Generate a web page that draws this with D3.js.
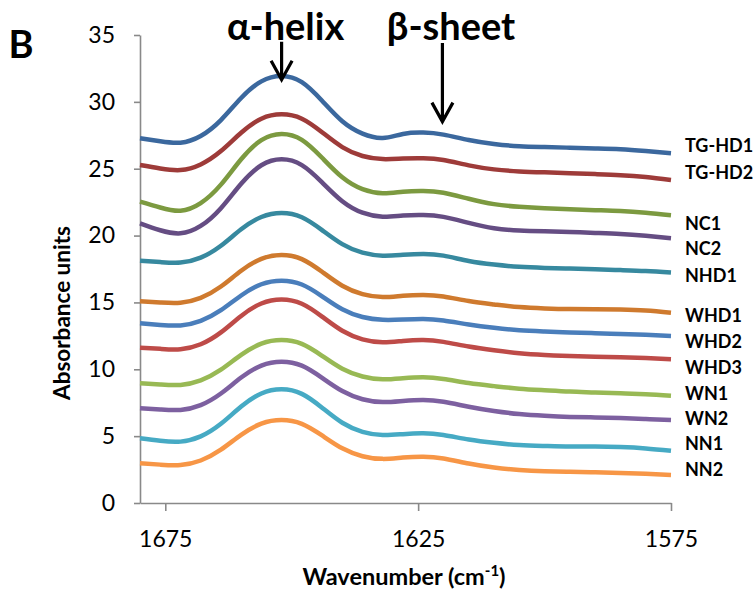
<!DOCTYPE html>
<html>
<head>
<meta charset="utf-8">
<script src="https://cdn.jsdelivr.net/npm/d3@7"></script>
<style>
  html, body { margin: 0; padding: 0; background: #fff; }
  svg { display: block; }
  text { font-family: Lato, "Open Sans", sans-serif; }
</style>
</head>
<body>
<svg id="chart" width="755" height="594"></svg>
<script>
// ---- data ----
const wavenumbers = [1680, 1676, 1672, 1668, 1664, 1660, 1656, 1652, 1648, 1644, 1640, 1636, 1632,
                     1628, 1624, 1620, 1615, 1610, 1605, 1600, 1595, 1590, 1585, 1580, 1575];

const seriesNames = ["TG-HD1", "TG-HD2", "NC1", "NC2", "NHD1", "WHD1", "WHD2", "WHD3", "WN1", "WN2", "NN1", "NN2"];

const TG_HD1 = [27.28, 27.05, 26.95, 27.45, 28.64, 30.29, 31.53, 31.93, 31.47, 30.08, 28.55, 27.62, 27.30, 27.60, 27.70, 27.55, 27.15, 26.85, 26.68, 26.62, 26.57, 26.52, 26.46, 26.32, 26.15];
const TG_HD2 = [25.28, 25.02, 24.90, 25.32, 26.32, 27.69, 28.74, 29.07, 28.74, 27.73, 26.62, 25.95, 25.72, 25.76, 25.78, 25.65, 25.25, 24.95, 24.80, 24.73, 24.67, 24.60, 24.52, 24.38, 24.16];
const NC1    = [22.54, 22.10, 21.86, 22.43, 23.81, 25.71, 27.14, 27.60, 27.16, 25.82, 24.36, 23.47, 23.16, 23.28, 23.34, 23.20, 22.75, 22.35, 22.15, 22.04, 21.97, 21.90, 21.83, 21.70, 21.52];
const NC2    = [20.92, 20.40, 20.17, 20.72, 22.05, 23.88, 25.26, 25.70, 25.27, 23.98, 22.57, 21.71, 21.41, 21.50, 21.54, 21.40, 20.95, 20.55, 20.38, 20.32, 20.27, 20.20, 20.12, 19.98, 19.80];
const NHD1   = [18.12, 18.02, 17.98, 18.35, 19.24, 20.47, 21.39, 21.69, 21.37, 20.41, 19.36, 18.72, 18.50, 18.56, 18.62, 18.50, 18.10, 17.83, 17.66, 17.58, 17.53, 17.48, 17.42, 17.35, 17.23];
const WHD1   = [15.08, 15.00, 14.98, 15.34, 16.19, 17.37, 18.26, 18.55, 18.24, 17.29, 16.25, 15.62, 15.40, 15.50, 15.56, 15.45, 15.10, 14.85, 14.65, 14.55, 14.50, 14.49, 14.47, 14.40, 14.23];
const WHD2   = [13.44, 13.32, 13.28, 13.62, 14.42, 15.52, 16.36, 16.63, 16.34, 15.46, 14.49, 13.91, 13.70, 13.72, 13.76, 13.65, 13.35, 13.10, 12.92, 12.83, 12.76, 12.70, 12.64, 12.58, 12.49];
const WHD3   = [11.62, 11.53, 11.50, 11.87, 12.76, 13.99, 14.92, 15.22, 14.90, 13.94, 12.88, 12.24, 12.02, 12.12, 12.19, 12.05, 11.70, 11.42, 11.20, 11.07, 10.99, 10.94, 10.90, 10.84, 10.75];
const WN1    = [8.95, 8.86, 8.83, 9.17, 9.97, 11.08, 11.92, 12.19, 11.90, 11.01, 10.04, 9.46, 9.25, 9.33, 9.40, 9.28, 8.97, 8.74, 8.55, 8.43, 8.33, 8.27, 8.20, 8.13, 8.02];
const WN2    = [7.08, 6.99, 6.96, 7.32, 8.19, 9.38, 10.28, 10.57, 10.27, 9.36, 8.37, 7.76, 7.55, 7.63, 7.70, 7.57, 7.20, 6.88, 6.65, 6.52, 6.44, 6.40, 6.35, 6.28, 6.20];
const NN1    = [4.84, 4.65, 4.59, 4.98, 5.92, 7.21, 8.19, 8.50, 8.16, 7.13, 6.00, 5.32, 5.08, 5.15, 5.21, 5.08, 4.75, 4.50, 4.33, 4.26, 4.22, 4.22, 4.18, 4.08, 3.90];
const NN2    = [2.97, 2.87, 2.84, 3.18, 3.99, 5.10, 5.94, 6.21, 5.92, 5.05, 4.09, 3.50, 3.30, 3.40, 3.46, 3.33, 2.95, 2.65, 2.47, 2.38, 2.34, 2.30, 2.25, 2.18, 2.09];

const seriesValues = [TG_HD1, TG_HD2, NC1, NC2, NHD1, WHD1, WHD2, WHD3, WN1, WN2, NN1, NN2];

const yTicks = [0, 5, 10, 15, 20, 25, 30, 35];
const xTicks = [1675, 1625, 1575];

// label vertical positions (data units) as placed in the reference
const labelY = [26.75, 24.75, 20.9, 19.0, 17.0, 14.05, 12.1, 10.1, 8.2, 6.3, 4.45, 2.5];

// annotations: text, wavenumber of arrow, arrow top / tip (data units)
const annotations = [
  { text: "\u03b1-helix", w: 1652, top: 34.5, tip: 31.65, tx: 1651.2 },
  { text: "\u03b2-sheet", w: 1620.2, top: 34.4, tip: 28.52, tx: 1618.5 }
];

// ---- styles ----
const colors = ["#3B689E", "#9E3B39", "#7C9A40", "#654D83", "#37899F", "#CF7A2E",
                "#4A7EBB", "#BE4B48", "#98B954", "#7D60A0", "#46AAC4", "#F79646"];

const svg = d3.select("#chart");
const pL = 140, pR = 671, pT = 35, pB = 503;

const x = d3.scaleLinear().domain([1680, 1575]).range([pL, pR]);
const y = d3.scaleLinear().domain([0, 35]).range([pB, pT]);

const axisColor = "#898989";

// Y axis
const yAxis = svg.append("g")
  .attr("transform", `translate(${pL},0)`)
  .call(d3.axisLeft(y).tickValues(yTicks).tickSize(6).tickPadding(19).tickSizeOuter(0));
yAxis.select(".domain").attr("stroke", axisColor).attr("stroke-width", 1.6);
yAxis.selectAll(".tick line").attr("stroke", axisColor).attr("stroke-width", 1.6);
yAxis.selectAll(".tick text").attr("font-size", 23).attr("fill", "#000")
  .attr("font-family", "Lato, sans-serif");

// X axis
const xAxis = svg.append("g")
  .attr("transform", `translate(0,${pB})`)
  .call(d3.axisBottom(x).tickValues(xTicks).tickSize(8).tickPadding(20).tickSizeOuter(0)
        .tickFormat(d3.format("d")));
xAxis.select(".domain").attr("stroke", axisColor).attr("stroke-width", 1.6);
xAxis.selectAll(".tick line").attr("stroke", axisColor).attr("stroke-width", 1.6);
xAxis.selectAll(".tick text").attr("font-size", 23).attr("fill", "#000")
  .attr("font-family", "Lato, sans-serif");

// Lines
const line = d3.line()
  .x((d, i) => x(wavenumbers[i]))
  .y(d => y(d))
  .curve(d3.curveNatural);

svg.append("g").selectAll("path")
  .data(seriesValues)
  .join("path")
  .attr("d", d => line(d))
  .attr("fill", "none")
  .attr("stroke", (d, i) => colors[i])
  .attr("stroke-width", 4.5)
  .attr("stroke-linecap", "butt");

// Series labels
svg.append("g").selectAll("text")
  .data(seriesNames)
  .join("text")
  .attr("x", 685)
  .attr("y", (d, i) => y(labelY[i]))
  .attr("dy", "0.36em")
  .attr("font-size", 18)
  .attr("font-weight", "bold")
  .attr("fill", "#000")
  .text(d => d);

// Annotations
const ann = svg.append("g");
annotations.forEach(a => {
  const ax = x(a.w), yTop = y(a.top), yTip = y(a.tip);
  ann.append("path")
    .attr("d", `M${ax},${yTop}L${ax},${yTip}M${ax - 10.5},${yTip - 19}L${ax},${yTip}L${ax + 10.5},${yTip - 19}`)
    .attr("fill", "none").attr("stroke", "#000").attr("stroke-width", 3.2)
    .attr("stroke-linejoin", "miter");
  ann.append("text")
    .attr("x", x(a.tx)).attr("y", 40)
    .attr("text-anchor", "middle")
    .attr("font-size", 38).attr("font-weight", "bold").attr("fill", "#000")
    .text(a.text);
});

// Panel letter
svg.append("text").attr("x", 21).attr("y", 58).attr("text-anchor", "middle")
  .attr("font-size", 38).attr("font-weight", "bold").attr("fill", "#000").text("B");

// Axis titles
svg.append("text")
  .attr("transform", `translate(70,313) rotate(-90)`)
  .attr("text-anchor", "middle")
  .attr("font-size", 22.5).attr("font-weight", "bold").attr("fill", "#000")
  .text("Absorbance units");

const xt = svg.append("text")
  .attr("x", 404).attr("y", 585)
  .attr("text-anchor", "middle")
  .attr("font-size", 23.5).attr("font-weight", "bold").attr("fill", "#000");
xt.append("tspan").text("Wavenumber (cm");
xt.append("tspan").attr("font-size", 15).attr("dy", -9).text("-1");
xt.append("tspan").attr("dy", 9).text(")");
</script>
</body>
</html>
